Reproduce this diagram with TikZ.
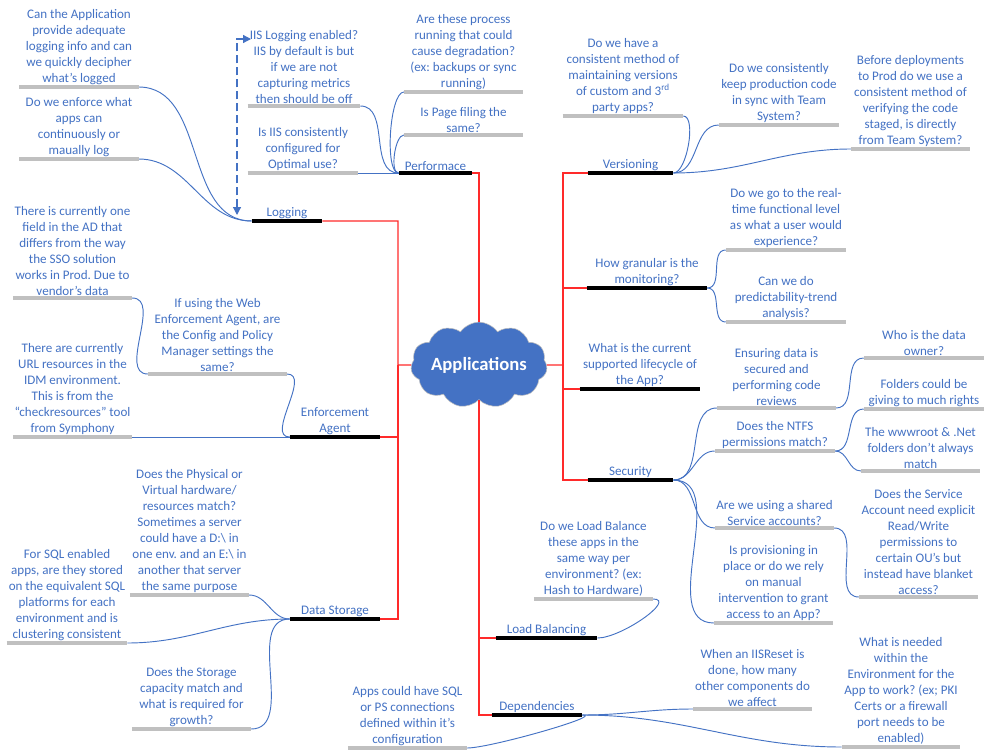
\documentclass[tikz,border=0pt]{standalone}
\usepackage{fontspec}
\setmainfont{Carlito}
\frenchspacing
\usetikzlibrary{shapes.symbols,arrows.meta}
\definecolor{qblue}{HTML}{4472C4}
\definecolor{qgray}{HTML}{C0C0C0}
\definecolor{qred}{HTML}{FF2A2A}
\begin{document}
\begin{tikzpicture}[x=0.75pt, y=-0.75pt,
  qtext/.style={align=center, inner xsep=0pt, inner ysep=1.5pt, anchor=south,
    text=qblue, font=\fontsize{9.8}{12}\selectfont},
  leaf/.style={qtext, minimum width=#1}, leaf/.default=89pt,
  branch/.style={qtext, minimum width=#1},
  leafbar/.style={draw=qgray, line width=3pt},
  branchbar/.style={draw=black, line width=3pt},
  trunk/.style={draw=qred, line width=0.8pt},
  twig/.style={draw=qblue, line width=0.7pt},
  dasharrow/.style={draw=qblue, line width=0.9pt, dash pattern=on 6pt off 3pt,
    {Triangle[length=6pt,width=6pt]}-{Triangle[length=6pt,width=6pt]}}]
  \useasboundingbox[fill=white] (0,0) rectangle (988,753);
  \node[cloud, cloud puffs=11, cloud puff arc=110, aspect=1.9, fill=qblue, draw=gray!50,
    minimum width=60pt, minimum height=36pt, inner sep=-1pt, text=white,
    font=\fontsize{14}{16}\selectfont\bfseries] (app) at (479,365) {Applications};
  \node[branch=55pt] (perf) at (435.5,173) {Performace};
  \node[branch=52.5pt] (log) at (287,221) {Logging};
  \node[branch=67.5pt] (ea) at (335,437) {Enforcement\\Agent};
  \node[branch=67.5pt] (ds) at (335,619) {Data Storage};
  \node[branch=64pt] (ver) at (630.5,173) {Versioning};
  \node[branch=90pt] (mon) at (647,288) {How granular is the\\monitoring?};
  \node[branch=90pt] (life) at (640,389) {What is the current\\supported lifecycle of\\the App?};
  \node[branch=64pt] (sec) at (630.5,480) {Security};
  \node[branch=76pt] (lb) at (546.5,638) {Load Balancing};
  \node[branch=67.5pt] (dep) at (537,715) {Dependencies};
  \node[leaf] (lg1) at (79,87) {Can the Application\\provide adequate\\logging info and can\\we quickly decipher\\what’s logged};
  \node[leaf] (lg2) at (79,159) {Do we enforce what\\apps can\\continuously or\\maually log};
  \node[leaf=84pt] (pf1) at (304,106) {IIS Logging enabled?\\IIS by default is but\\if we are not\\capturing metrics\\then should be off};
  \node[leaf=82.5pt] (pf2) at (303,173) {Is IIS consistently\\configured for\\Optimal use?};
  \node[leaf] (pf3) at (463.5,92) {Are these process\\running that could\\cause degradation?\\(ex: backups or sync\\running)};
  \node[leaf] (pf4) at (463.5,135) {Is Page filing the\\same?};
  \node[leaf=90pt] (vr1) at (623,116) {Do we have a\\consistent method of\\maintaining versions\\of custom and 3\textsuperscript{rd}\\party apps?};
  \node[leaf=90pt] (vr2) at (779,125) {Do we consistently\\keep production code\\in sync with Team\\System?};
  \node[leaf] (vr3) at (910.5,149) {Before deployments\\to Prod do we use a\\consistent method of\\verifying the code\\staged, is directly\\from Team System?};
  \node[leaf=90pt] (mn1) at (786,250) {Do we go to the real-\\time functional level\\as what a user would\\experience?};
  \node[leaf=90pt] (mn2) at (786,322) {Can we do\\predictability-trend\\analysis?};
  \node[leaf] (sc1) at (776.5,408) {Ensuring data is\\secured and\\performing code\\reviews};
  \node[leaf=90pt] (sc1a) at (924,358) {Who is the data\\owner?};
  \node[leaf=90pt] (sc2b) at (924,409) {Folders could be\\giving to much rights};
  \node[leaf=90pt] (sc2) at (775,451) {Does the NTFS\\permissions match?};
  \node[leaf] (sc2c) at (920.5,471) {The wwwroot \& .Net\\folders don’t always\\match};
  \node[leaf] (sc3) at (774.5,528) {Are we using a shared\\Service accounts?};
  \node[leaf] (sc3a) at (918.5,597) {Does the Service\\Account need explicit\\Read/Write\\permissions to\\certain OU’s but\\instead have blanket\\access?};
  \node[leaf] (sc4) at (773.5,623) {Is provisioning in\\place or do we rely\\on manual\\intervention to grant\\access to an App?};
  \node[leaf] (ds1) at (189.5,595) {Does the Physical or\\Virtual hardware/\\resources match?\\Sometimes a server\\could have a D:\textbackslash{} in\\one env. and an E:\textbackslash{} in\\another that server\\the same purpose};
  \node[leaf=90pt] (ds2) at (67,643) {For SQL enabled\\apps, are they stored\\on the equivalent SQL\\platforms for each\\environment and is\\clustering consistent};
  \node[leaf] (ds3) at (191.5,729) {Does the Storage\\capacity match and\\what is required for\\growth?};
  \node[leaf] (ea1) at (72.5,298) {There is currently one\\field in the AD that\\differs from the way\\the SSO solution\\works in Prod. Due to\\vendor’s data};
  \node[leaf=104pt] (ea2) at (217.5,374) {If using the Web\\Enforcement Agent, are\\the Config and Policy\\Manager settings the\\same?};
  \node[leaf] (ea3) at (72.5,437) {There are currently\\URL resources in the\\IDM environment.\\This is from the\\“checkresources” tool\\from Symphony};
  \node[leaf] (lb1) at (593.5,599) {Do we Load Balance\\these apps in the\\same way per\\environment? (ex:\\Hash to Hardware)};
  \node[leaf] (dp1) at (407.5,748) {Apps could have SQL\\or PS connections\\defined within it’s\\configuration};
  \node[leaf] (dp2) at (752.5,709) {When an IISReset is\\done, how many\\other components do\\we affect};
  \node[leaf=88.5pt] (dp3) at (901,747) {What is needed\\within the\\Environment for the\\App to work? (ex; PKI\\Certs or a firewall\\port needs to be\\enabled)};
  \coordinate (lhub) at (398,365);
  \coordinate (rhub) at (563,365);
  \coordinate (dashlow) at (237,215);
  \coordinate (dashtop) at (251,39);
  \draw[trunk] (perf.south east) -| (app.north);
  \draw[trunk] (log.south east) -| (lhub) -- (app.west);
  \draw[trunk] (ea.south east) -| (lhub);
  \draw[trunk] (ds.south east) -| (lhub);
  \draw[trunk] (app.east) -- (rhub);
  \foreach \n in {ver,mon,life,sec}
    \draw[trunk] (rhub) |- (\n.south west);
  \foreach \n in {lb,dep}
    \draw[trunk] (app.south) |- (\n.south west);
  \draw[twig] (lg1.south east) to[out=0,in=180] (log.south west);
  \draw[twig] (lg2.south east) to[out=0,in=180] (log.south west);
  \draw[twig] (pf1.south east) to[out=0,in=180] (perf.south west);
  \draw[twig] (pf2.south east) -- (perf.south west);
  \draw[twig] (perf.south west) to[out=180,in=180,looseness=0.45] (pf3.south west);
  \draw[twig] (perf.south west) to[out=180,in=180,looseness=0.6] (pf4.south west);
  \draw[twig] (ver.south east) to[out=0,in=0,looseness=0.6] (vr1.south east);
  \draw[twig] (ver.south east) to[out=0,in=180] (vr2.south west);
  \draw[twig] (ver.south east) to[out=0,in=180] (vr3.south west);
  \draw[twig] (mon.south east) to[out=0,in=180] (mn1.south west);
  \draw[twig] (mon.south east) to[out=0,in=180] (mn2.south west);
  \foreach \n in {sc1,sc2,sc3,sc4}
    \draw[twig] (sec.south east) to[out=0,in=180] (\n.south west);
  \draw[twig] (sc1.south east) to[out=0,in=180] (sc1a.south west);
  \draw[twig] (sc2.south east) to[out=0,in=180] (sc2b.south west);
  \draw[twig] (sc2.south east) to[out=0,in=180] (sc2c.south west);
  \draw[twig] (sc3.south east) to[out=0,in=180] (sc3a.south west);
  \foreach \n in {ds1,ds2,ds3}
    \draw[twig] (ds.south west) to[out=180,in=0] (\n.south east);
  \draw[twig] (ea1.south east) to[out=0,in=180] (ea2.south west);
  \draw[twig] (ea2.south east) to[out=0,in=180] (ea.south west);
  \draw[twig] (ea3.south east) -- (ea.south west);
  \draw[twig] (lb.south east) to[out=0,in=0,looseness=0.9] (lb1.south east);
  \draw[twig] (dep.south east) to[out=0,in=0,looseness=0.5] (dp1.south east);
  \draw[twig] (dep.south east) to[out=0,in=180] (dp2.south west);
  \draw[twig] (dep.south east) to[out=0,in=180] (dp3.south west);
  \draw[dasharrow] (dashlow) |- (dashtop);
  \foreach \n in {lg1,lg2,pf1,pf2,pf3,pf4,vr1,vr2,vr3,mn1,mn2,sc1,sc1a,sc2b,sc2,sc2c,
    sc3,sc3a,sc4,ds1,ds2,ds3,ea1,ea2,ea3,lb1,dp1,dp2,dp3}
    \draw[leafbar] (\n.south west) -- (\n.south east);
  \foreach \n in {perf,log,ea,ds,ver,mon,life,sec,lb,dep}
    \draw[branchbar] (\n.south west) -- (\n.south east);
\end{tikzpicture}
\end{document}
